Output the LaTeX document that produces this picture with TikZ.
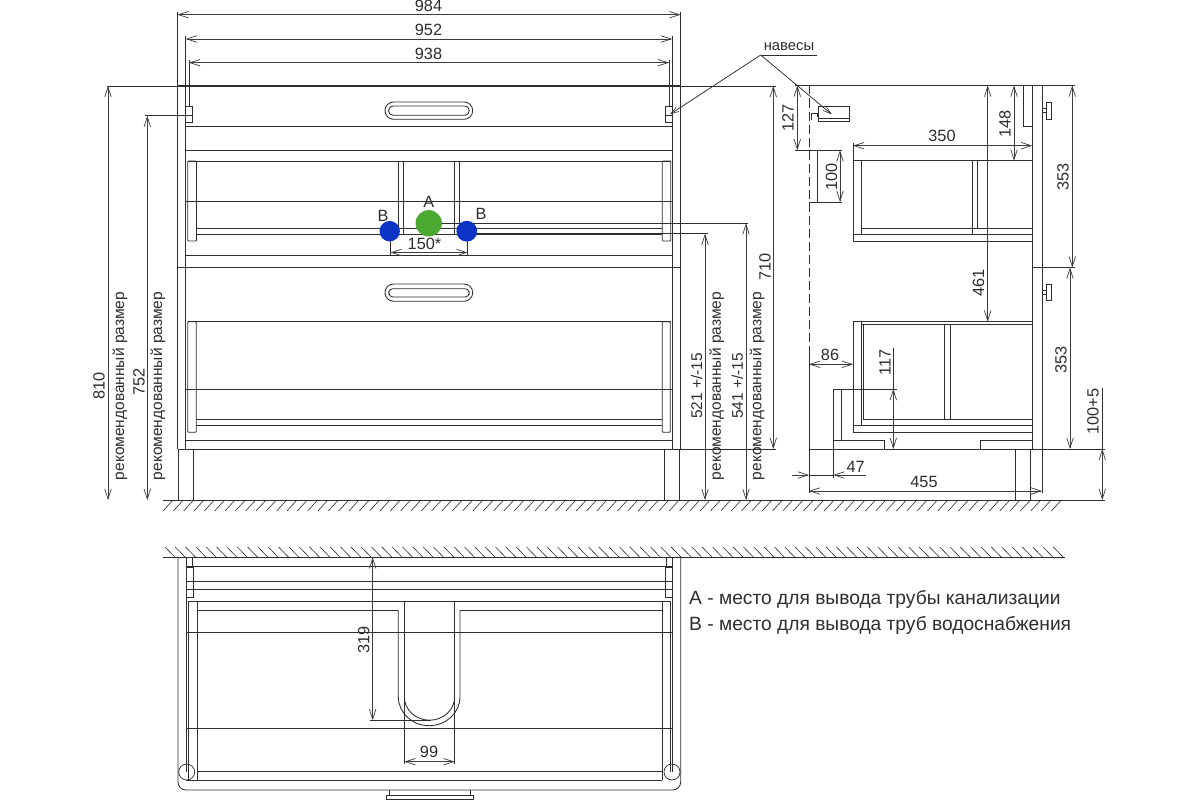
\documentclass[tikz,border=0pt]{standalone}
\usepackage{fontspec}
\setmainfont{Liberation Sans}
\usetikzlibrary{arrows.meta}
\definecolor{ink}{HTML}{2E2E2E}
\definecolor{dimc}{HTML}{3C3C3C}
\definecolor{pipeA}{HTML}{4BA831}
\definecolor{pipeB}{HTML}{0B33C6}
\tikzset{
  part/.style={draw=ink,line width=0.85pt},
  heavy/.style={draw=ink,line width=1.25pt},
  thin part/.style={draw=ink,line width=0.7pt},
  hatchline/.style={draw=ink,line width=0.6pt},
  dimline/.style={draw=dimc,line width=0.85pt,{Straight Barb[length=10pt,width=6.5pt,line width=0.7pt]}-{Straight Barb[length=10pt,width=6.5pt,line width=0.7pt]}},
  dimhalf/.style={draw=dimc,line width=0.85pt,-{Straight Barb[length=10pt,width=6.5pt,line width=0.7pt]}},
  leader/.style={draw=ink,line width=0.75pt,-{Straight Barb[length=8pt,width=5pt,line width=0.6pt]}},
  lab/.style={font=\fontsize{16.3}{17}\selectfont,text=ink,inner sep=0pt},
  vlab/.style={lab,rotate=90},
  reclab/.style={font=\fontsize{15.5}{16}\selectfont,text=ink,inner sep=0pt,rotate=90},
  legend/.style={font=\fontsize{19.2}{20}\selectfont,text=ink,inner sep=0pt,anchor=west}
}
\begin{document}
\begin{tikzpicture}[x=1pt,y=-1pt]
\useasboundingbox (0,0) rectangle (1200,800);
\fill[white] (0,0) rectangle (1200,800);
%% ---------- floor and wall
\draw[part] (163,500) -- (1105,500);
\foreach \i in {0,...,86} {\draw[hatchline] ({163+\i*10.33},511) -- ({173+\i*10.33},500);}
\draw[part] (163,557.3) -- (1065,557.3);
\foreach \i in {0,...,86} {\draw[hatchline] ({165+\i*10.33},547) -- ({175+\i*10.33},557.3);}
%% ---------- front view: carcass
\draw[part] (177.5,12) -- (177.5,449);
\draw[part] (680.5,12) -- (680.5,449);
\draw[part] (185.7,36) -- (185.7,449);
\draw[part] (672.3,36) -- (672.3,449);
\draw[thin part] (189,60) -- (189,107);
\draw[thin part] (669,60) -- (669,107);
\draw[thin part] (107,86) -- (776,86);
\draw[heavy] (177.5,86) -- (680.5,86);
\draw[heavy] (177.5,267.6) -- (680.5,267.6);
\draw[part] (177.5,449) -- (776,449);
\foreach \y in {126,150.3,201.7,255.7,389,440.3} {\draw[part] (185.7,\y) -- (672.3,\y);}
\draw[part] (178,449) -- (178,500) (193.3,449) -- (193.3,500) (664.3,449) -- (664.3,500) (679.7,449) -- (679.7,500);
%% hinges front
\draw[thin part] (185.7,106.7) rectangle (192.3,115.7) (185.7,115.7) rectangle (192.3,122);
\draw[thin part] (665.7,106.7) rectangle (672.3,115.7) (665.7,115.7) rectangle (672.3,122);
\draw[thin part] (145,115.7) -- (185.7,115.7);
%% handles
\draw[part,rounded corners=8.6pt] (385,102) rectangle (472.7,119.3);
\draw[part,rounded corners=4.6pt] (388.5,106) rectangle (469.3,115.3);
\draw[part,rounded corners=8.6pt] (385,284) rectangle (472.7,301.3);
\draw[part,rounded corners=4.2pt] (388.7,288.7) rectangle (469.3,297);
%% upper drawer
\draw[part] (187.7,161) -- (670.7,161);
\draw[part,rounded corners=0.8pt] (187.7,161) rectangle (196.5,241);
\draw[part,rounded corners=0.8pt] (662.3,161) rectangle (670.7,241);
\draw[part] (196.5,228.3) -- (662.3,228.3);
\draw[heavy,line width=1.1pt] (196.5,234.2) -- (662.3,234.2);
\draw[part] (398.7,161) -- (398.7,234) (403.7,161) -- (403.7,234) (454.3,161) -- (454.3,234) (459.3,161) -- (459.3,234);
%% lower drawer
\draw[part] (187.7,321.7) -- (670.5,321.7);
\draw[part,rounded corners=0.8pt] (187.7,321.7) rectangle (196.2,432.3);
\draw[part,rounded corners=0.8pt] (662.3,321.7) rectangle (670.3,432.3);
\draw[part] (196.2,419.3) -- (662.3,419.3) (196.2,425.3) -- (662.3,425.3);
%% pipe points
\draw[thin part] (428.7,223.3) -- (748,223.3);
\draw[thin part] (466.7,233.7) -- (708,233.7);
\draw[thin part] (390.5,231) -- (390.5,256) (467.5,231) -- (467.5,256);
\fill[pipeA] (428.7,223.3) circle (13.2);
\fill[pipeB] (389.7,231.2) circle (10.2);
\fill[pipeB] (466.8,231.2) circle (10.4);
\node[lab] (labA) at (428.7,201.5) {A};
\node[lab] (labBl) at (383,216) {B};
\node[lab] (labBr) at (481,214) {B};
\draw[dimline] (390.5,252.5) -- (467.5,252.5);
\node[lab] (d150) at (424.5,243.5) {150*};
%% front dims
\draw[dimline] (177.5,14.7) -- (680.5,14.7);
\node[lab] (d984) at (428.5,6) {984};
\draw[dimline] (185.7,39) -- (672.3,39);
\node[lab] (d952) at (428.5,30) {952};
\draw[dimline] (189,62.7) -- (669,62.7);
\node[lab] (d938) at (428.5,53.5) {938};
\draw[dimline] (108,86) -- (108,500);
\node[vlab] (d810) at (99,386) {810};
\node[reclab] (r1) at (120,386) {рекомендованный размер};
\draw[dimline] (147.3,115.7) -- (147.3,500);
\node[vlab] (d752) at (139,382) {752};
\node[reclab] (r2) at (158,386) {рекомендованный размер};
\draw[dimline] (705,233.7) -- (705,500);
\node[reclab] (d521) at (696.7,386) {521 +/-15};
\node[reclab] (r3) at (716.7,386) {рекомендованный размер};
\draw[dimline] (746,223.3) -- (746,500);
\node[reclab] (d541) at (737.3,386) {541 +/-15};
\node[reclab] (r4) at (757.3,386) {рекомендованный размер};
\draw[dimline] (773.3,86) -- (773.3,449);
\node[vlab] (d710) at (765,267) {710};
%% leader
\coordinate (apex) at (760.7,55);
\coordinate (ulend) at (817.3,55);
\coordinate (hingeL) at (670,114.3);
\coordinate (hingeR) at (831.7,114.3);
\node[lab,font=\fontsize{14.8}{15}\selectfont] (nav) at (789,46.5) {навесы};
\draw[thin part] (apex) -- (ulend);
\draw[leader] (apex) -- (hingeL);
\draw[leader] (apex) -- (hingeR);
%% ---------- side view
\draw[part] (795,85.5) -- (1075,85.5);
\draw[heavy] (1032.3,267.5) -- (1075,267.5);
\draw[part,dash pattern=on 9pt off 4pt] (809,85.5) -- (809,355);
\draw[part] (809,355) -- (809,493);
\draw[part] (809,449) -- (1105,449);
\draw[part] (1032.3,85.5) -- (1032.3,449);
\draw[part] (1042,85.5) -- (1042,493);
\draw[part] (1023,85.5) -- (1023,126.7) -- (1032.3,126.7);
\draw[part] (1015,449) -- (1015,500) (1030.3,449) -- (1030.3,500);
%% side handles
\draw[thin part] (1046.7,102.3) rectangle (1051.3,119) (1042,108) -- (1046.7,108) (1042,112) -- (1046.7,112);
\draw[thin part] (1046.7,284) rectangle (1051.3,300.7) (1042,290) -- (1046.7,290) (1042,294) -- (1046.7,294);
%% side hinge
\draw[thin part] (818.7,106) rectangle (849.7,121.7) (818.7,118.7) -- (849.7,118.7);
\draw[heavy,line width=1pt] (811,120) -- (811,113) -- (817,113) -- (817,117);
%% side upper drawer
\draw[part] (853,160.7) -- (1032.3,160.7);
\draw[part] (853,143) -- (853,241) -- (1032.3,241);
\draw[part] (861.7,160.7) -- (861.7,234);
\draw[part] (853,234) -- (1032.3,234);
\draw[part] (861.7,228) -- (1032.3,228);
\draw[part] (972.7,160.7) -- (972.7,234) (977.3,160.7) -- (977.3,228);
%% side lower drawer
\draw[part] (853,364) -- (853,432.3) -- (1032.3,432.3);
\draw[part] (853,321.7) -- (853,364);
\draw[part] (853,321.7) -- (1032.3,321.7) (862,324.3) -- (1032.3,324.3);
\draw[part] (861.7,321.7) -- (861.7,425.3) (863.4,324.3) -- (863.4,419.3);
\draw[part] (853,425.3) -- (1032.3,425.3);
\draw[part] (863.4,419.3) -- (1032.3,419.3);
\draw[part] (944.3,324.3) -- (944.3,419.3) (950.7,324.3) -- (950.7,419.3);
%% feet
\draw[part] (833.3,389) -- (833.3,478);
\draw[part] (841.7,389) -- (841.7,440);
\draw[part] (832.7,440) -- (884.3,440) -- (884.3,449);
\draw[part] (1032.3,440) -- (980.3,440) -- (980.3,449);
\draw[part] (833.3,389) -- (896.7,389);
%% side dims
\draw[dimline] (797.3,85.5) -- (797.3,150.3);
\node[vlab] (d127) at (788,118) {127};
\draw[part] (795,150.3) -- (842.3,150.3);
\draw[part] (817.7,150.3) -- (817.7,202) (809,202) -- (842.3,202);
\draw[dimline] (840,150.3) -- (840,202);
\node[vlab] (d100) at (831.5,176.7) {100};
\draw[dimline] (853,145.7) -- (1032.3,145.7);
\node[lab] (d350) at (942,136) {350};
\draw[dimline] (1014,85.5) -- (1014,160.7);
\node[vlab] (d148) at (1005,124) {148};
\draw[dimline] (987.7,85.5) -- (987.7,321.7);
\node[vlab] (d461) at (978.5,283) {461};
\draw[dimline] (1072.3,85.5) -- (1072.3,267.5);
\node[vlab] (d353a) at (1063,177) {353};
\draw[dimline] (1070,267.5) -- (1070,449);
\node[vlab] (d353b) at (1061,360) {353};
\draw[dimline] (809,364.3) -- (853,364.3);
\node[lab] (d86) at (830,355) {86};
\draw[part] (893.3,347.7) -- (893.3,389);
\draw[dimline] (893.3,389) -- (893.3,449);
\node[vlab] (d117) at (885,362.3) {117};
\draw[dimhalf] (792,475) -- (809,475);
\draw[dimhalf] (866,475) -- (833.3,475);
\draw[part] (809,475) -- (833.3,475);
\node[lab] (d47) at (855.7,466.5) {47};
\draw[dimline] (809,491) -- (1042,491);
\node[lab] (d455) at (924,482) {455};
\draw[part] (1102.3,388) -- (1102.3,449);
\draw[dimline] (1102.3,449) -- (1102.3,500);
\node[vlab] (d105) at (1093,411.7) {100+5};
%% ---------- plan view
\draw[part,rounded corners=8pt] (178,557.3) -- (178,790) -- (680.7,790) -- (680.7,557.3);
\draw[part] (186,557.3) -- (186,772);
\draw[part] (672.3,557.3) -- (672.3,772);
\foreach \y in {566,581.3,589.3,632.7,728.7} {\draw[part] (186,\y) -- (672.3,\y);}
%% plan hinges
\draw[thin part] (186.7,557.3) rectangle (192.7,567.3) (186.7,567.3) rectangle (193.3,597.3);
\draw[thin part] (666.7,557.3) rectangle (672,567.3) (665.3,567.3) rectangle (672.3,597.3);
%% plan drawer
\draw[part] (188.7,780) -- (188.7,601.3) -- (670,601.3) -- (670,772);
\draw[part] (197.3,601.3) -- (197.3,780);
\draw[part] (662,601.3) -- (662,780);
\draw[part] (197.3,610) -- (398.3,610) (460,610) -- (662,610);
\draw[part] (197.3,771.3) -- (662,771.3);
\draw[part] (186,780) -- (662,780);
%% U cutout
\draw[part] (398.3,610) -- (398.3,696.7) arc[start angle=180,end angle=360,x radius=30.85,y radius=-29] -- (460,610);
\draw[part] (404.3,696.7) arc[start angle=180,end angle=360,x radius=25.2,y radius=-23.5];
\draw[thin part] (404.3,601.3) -- (404.3,764) (454.7,601.3) -- (454.7,764);
\draw[dimline] (404.3,761.7) -- (454.7,761.7);
\node[lab] (d99) at (429,752.3) {99};
\draw[thin part] (370,720.3) -- (431,720.3);
\draw[dimline] (372.7,557.3) -- (372.7,720.3);
\node[vlab] (d319) at (363.7,640) {319};
%% plan corners and handle
\draw[thin part] (186.7,772) circle (8);
\draw[thin part] (672,772) circle (8);
\draw[thin part] (386.7,795) rectangle (473.3,799.3);
\draw[thin part] (389,790) -- (389,795) (470.7,790) -- (470.7,795);
%% ---------- legend
\node[legend] (legA) at (689,599) {A - место для вывода трубы канализации};
\node[legend] (legB) at (689,625) {B - место для вывода труб водоснабжения};
\end{tikzpicture}
\end{document}
